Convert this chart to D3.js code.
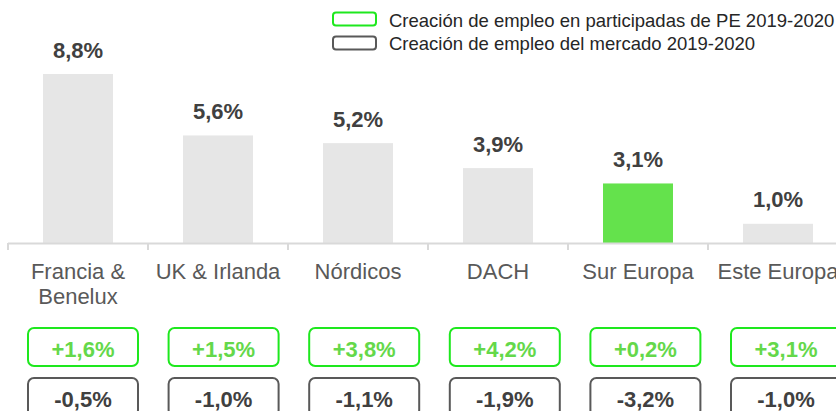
<!DOCTYPE html>
<html><head><meta charset="utf-8">
<script src="https://cdn.jsdelivr.net/npm/d3@7"></script>
<style>body{margin:0;background:#fff}svg{display:block;font-family:"Liberation Sans",Arimo,Arial,sans-serif}</style>
</head><body>
<svg id="c" width="836" height="411"></svg>
<script>
const categories = [["Francia &","Benelux"],["UK & Irlanda"],["Nórdicos"],["DACH"],["Sur Europa"],["Este Europa"]];
const barValues = [8.8, 5.6, 5.2, 3.9, 3.1, 1.0];
const barLabels = ["8,8%","5,6%","5,2%","3,9%","3,1%","1,0%"];
const peLabels = ["+1,6%","+1,5%","+3,8%","+4,2%","+0,2%","+3,1%"];
const marketLabels = ["-0,5%","-1,0%","-1,1%","-1,9%","-3,2%","-1,0%"];
const highlightIndex = 4;
const legendLabels = ["Creación de empleo en participadas de PE 2019-2020","Creación de empleo del mercado 2019-2020"];

const svg = d3.select("#c");
const keys = categories.map((d,i)=>"c"+i);
const x = d3.scaleBand().domain(keys).range([8,848]).paddingInner(0.5).paddingOuter(0.25);
const y = d3.scaleLinear().domain([0,8.8]).range([243,74]);

// bars
svg.selectAll("rect.bar").data(barValues).join("rect")
  .attr("x",(d,i)=>x(keys[i])).attr("width",x.bandwidth())
  .attr("y",d=>y(d)).attr("height",d=>y(0)-y(d))
  .attr("fill",(d,i)=>i===highlightIndex?"#64e24c":"#e6e6e6");

// value labels
svg.selectAll("text.val").data(barValues).join("text")
  .attr("x",(d,i)=>x(keys[i])+x.bandwidth()/2).attr("y",d=>y(d)-16.5)
  .attr("text-anchor","middle").attr("font-size",22).attr("font-weight","bold").attr("fill","#404040")
  .text((d,i)=>barLabels[i]);

// axis
svg.append("line").attr("x1",8).attr("x2",836).attr("y1",243.5).attr("y2",243.5).attr("stroke","#d9d9d9").attr("stroke-width",2);
const tickXs = d3.range(keys.length+1).map(i=>8+i*x.step());
svg.selectAll("line.tick").data(tickXs).join("line")
  .attr("x1",d=>d).attr("x2",d=>d).attr("y1",243).attr("y2",250).attr("stroke","#d9d9d9").attr("stroke-width",2);

// category labels
categories.forEach((lines,i)=>{
  const t = svg.append("text").attr("text-anchor","middle").attr("font-size",22).attr("fill","#595959");
  lines.forEach((l,j)=>t.append("tspan").attr("x",x(keys[i])+x.bandwidth()/2).attr("y",279+j*25).text(l));
});

// boxes
const bw = 110, bh = 38;
const cx = i => x(keys[i])+x.bandwidth()/2 + 5 + i*0.6;
function boxes(labels, top, stroke, fill){
  const g = svg.append("g");
  labels.forEach((l,i)=>{
    g.append("rect").attr("x",cx(i)-bw/2).attr("y",top).attr("width",bw).attr("height",bh)
      .attr("rx",6).attr("fill","#fff").attr("stroke",stroke).attr("stroke-width",2);
    g.append("text").attr("x",cx(i)).attr("y",top+29).attr("text-anchor","middle")
      .attr("font-size",22).attr("font-weight","bold").attr("fill",fill).text(l);
  });
}
boxes(peLabels, 328, "#1ee81e", "#64d84a");
boxes(marketLabels, 378, "#595959", "#404040");

// legend
const leg = [{s:"#1ee81e", y:12.5, ty:27},{s:"#595959", y:36.5, ty:50}];
leg.forEach((l,i)=>{
  svg.append("rect").attr("x",333).attr("y",l.y).attr("width",43).attr("height",13).attr("rx",3)
    .attr("fill","#fff").attr("stroke",l.s).attr("stroke-width",2);
  svg.append("text").attr("x",389).attr("y",l.ty).attr("font-size",18.5).attr("fill","#262626").text(legendLabels[i]);
});
</script>
</body></html>
